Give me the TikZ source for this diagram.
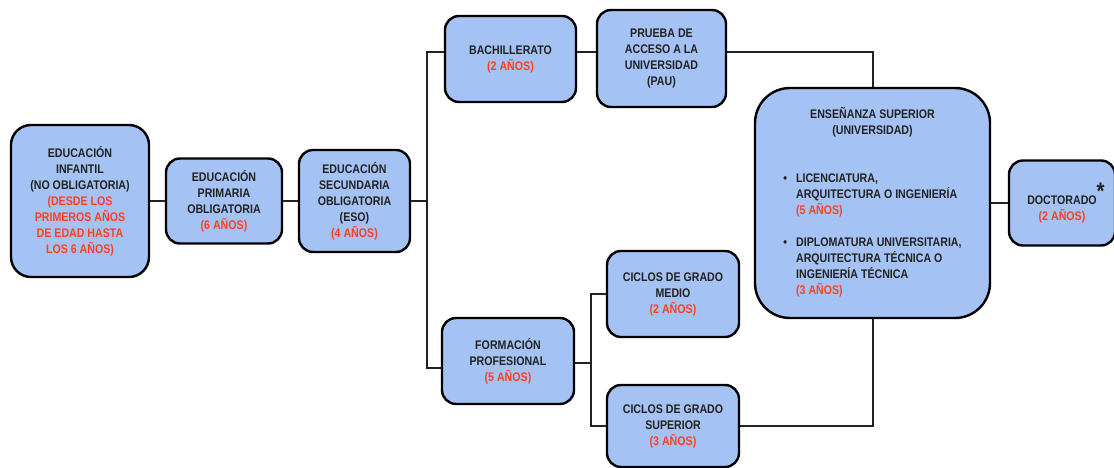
\documentclass[tikz,border=0pt]{standalone}
\usepackage{fontspec}
\usepackage{tikz}
\usetikzlibrary{positioning,calc}
\newfontfamily\boxfont{Liberation Sans}[FakeStretch=0.85]
\definecolor{boxblue}{HTML}{A4C2F4}
\definecolor{durred}{HTML}{FF4020}
\definecolor{inkgray}{HTML}{222222}
\newcommand{\dur}[1]{\textcolor{durred}{#1}}

\begin{document}
\begin{tikzpicture}[
  x=1pt, y=-1pt,
  stage/.style={draw=black, line width=2.4pt, fill=boxblue, rounded corners=14pt,
    inner sep=0pt, align=center, text=inkgray,
    font={\boxfont\bfseries\fontsize{12.5}{16}\selectfont}},
  link/.style={draw=inkgray, line width=2pt}
]
  \useasboundingbox (0,0) rectangle (1114,468);

  % compulsory stages
  \node[stage, rounded corners=20pt, minimum width=138pt, minimum height=152pt] (inf) at (80,201)
    {EDUCACIÓN\\INFANTIL\\(NO OBLIGATORIA)\\\dur{(DESDE LOS}\\\dur{PRIMEROS AÑOS}\\\dur{DE EDAD HASTA}\\\dur{LOS 6 AÑOS)}};
  \node[stage, minimum width=116pt, minimum height=85pt] (pri) at (224,201)
    {EDUCACIÓN\\PRIMARIA\\OBLIGATORIA\\\dur{(6 AÑOS)}};
  \node[stage, minimum width=111pt, minimum height=102pt] (sec) at (354.5,201)
    {EDUCACIÓN\\SECUNDARIA\\OBLIGATORIA\\(ESO)\\\dur{(4 AÑOS)}};

  % upper branch
  \node[stage, minimum width=131pt, minimum height=86pt] (bach) at (510.5,59)
    {BACHILLERATO\\\dur{(2 AÑOS)}};
  \node[stage, minimum width=129pt, minimum height=97pt] (pau) at (661.5,58.5)
    {PRUEBA DE\\ACCESO A LA\\UNIVERSIDAD\\(PAU)};
  \node[stage, rounded corners=35pt, minimum width=235pt, minimum height=230pt] (ens) at (872.5,203)
    {\begin{tabular}{@{}l@{\hspace{9pt}}l@{}}
      \multicolumn{2}{c}{ENSEÑANZA SUPERIOR}\\
      \multicolumn{2}{c}{(UNIVERSIDAD)}\\[32pt]
      \textbullet & LICENCIATURA,\\
       & ARQUITECTURA O INGENIERÍA\\
       & \dur{(5 AÑOS)}\\[16pt]
      \textbullet & DIPLOMATURA UNIVERSITARIA,\\
       & ARQUITECTURA TÉCNICA O\\
       & INGENIERÍA TÉCNICA\\
       & \dur{(3 AÑOS)}
    \end{tabular}};
  \node[stage, minimum width=106pt, minimum height=85pt] (doc) at (1062,203)
    {DOCTORADO\rlap{\raisebox{5pt}{\fontsize{24}{24}\selectfont *}}\\\dur{(2 AÑOS)}};

  % lower branch
  \node[stage, minimum width=132pt, minimum height=86pt] (fp) at (508,361)
    {FORMACIÓN\\PROFESIONAL\\\dur{(5 AÑOS)}};
  \node[stage, minimum width=132pt, minimum height=86pt] (cm) at (673,294)
    {CICLOS DE GRADO\\MEDIO\\\dur{(2 AÑOS)}};
  \node[stage, minimum width=132pt, minimum height=82pt] (cs) at (673,426)
    {CICLOS DE GRADO\\SUPERIOR\\\dur{(3 AÑOS)}};

  \coordinate (split1) at (427,201);
  \coordinate (split2) at (591,363);

  \draw[link] (inf) -- (pri);
  \draw[link] (pri) -- (sec);
  \draw[link] (sec.east) -- (split1);
  \draw[link] ([yshift=7pt]bach.west) -| (split1) |- ([yshift=-7pt]fp.west);
  \draw[link] ([yshift=7pt]bach.east) -- ([yshift=7pt]bach.east -| pau.west);
  \draw[link] ([yshift=6.5pt]pau.east) -| (ens.north);
  \draw[link] (ens) -- (doc);
  \draw[link] (fp.east |- split2) -- (split2);
  \draw[link] (cm.west) -| (split2) |- (cs.west);
  \draw[link] (cs.east) -| (ens.south);
\end{tikzpicture}
\end{document}
